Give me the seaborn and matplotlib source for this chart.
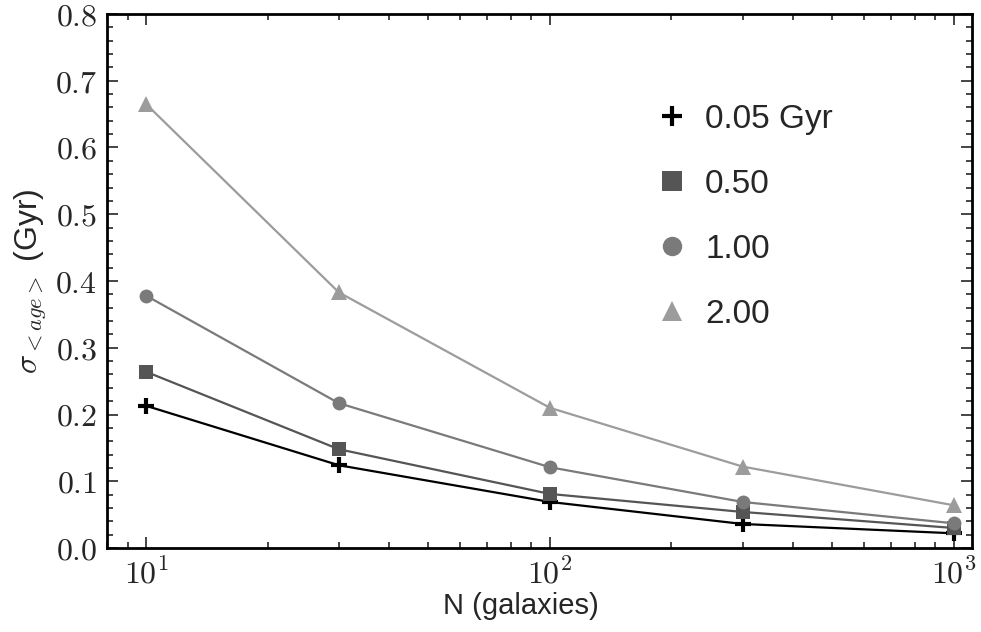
import numpy as np
import pandas as pd
import matplotlib
matplotlib.use("Agg")
import matplotlib.pyplot as plt
from matplotlib.lines import Line2D
from matplotlib.ticker import FuncFormatter, MultipleLocator, LogLocator
import seaborn as sns

# Sample sizes and scatter of the mean age for each age spread
n_galaxies = [10, 30, 100, 300, 1000]
sigma_005 = [0.213, 0.124, 0.069, 0.036, 0.022]
sigma_050 = [0.264, 0.148, 0.081, 0.054, 0.030]
sigma_100 = [0.378, 0.217, 0.121, 0.069, 0.037]
sigma_200 = [0.665, 0.383, 0.210, 0.122, 0.064]
series_labels = ["0.05 Gyr", "0.50", "1.00", "2.00"]

sns.set_theme(style="ticks")
plt.rcParams["font.family"] = ["Liberation Sans", "DejaVu Sans"]
plt.rcParams["mathtext.fontset"] = "cm"

df = pd.DataFrame({
    "N": n_galaxies * 4,
    "sigma": sigma_005 + sigma_050 + sigma_100 + sigma_200,
    "spread": sum([[lab] * len(n_galaxies) for lab in series_labels], []),
})

colors = {"0.05 Gyr": "#000000", "0.50": "#555555", "1.00": "#7a7a7a", "2.00": "#9c9c9c"}
markers = {"0.05 Gyr": "+", "0.50": "s", "1.00": "o", "2.00": "^"}
msizes = {"0.05 Gyr": 11, "0.50": 10, "1.00": 10, "2.00": 11}

fig = plt.figure(figsize=(9.81, 6.32), dpi=100)
ax = fig.add_axes([107 / 981, 1 - 548 / 632, (972 - 107) / 981, (548 - 14) / 632])

for lab in series_labels:
    sub = df[df["spread"] == lab]
    sns.lineplot(data=sub, x="N", y="sigma", ax=ax, color=colors[lab], lw=1.6,
                 marker=markers[lab], markersize=msizes[lab],
                 markeredgewidth=3 if lab == "0.05 Gyr" else 0,
                 markeredgecolor=colors[lab], markerfacecolor=colors[lab],
                 legend=False)

ax.set_xscale("log")
ax.set_xlim(8.0, 1110)
ax.set_ylim(0, 0.8)
ax.yaxis.set_major_locator(MultipleLocator(0.1))
ax.yaxis.set_minor_locator(MultipleLocator(0.02))
ax.xaxis.set_major_locator(LogLocator(base=10))
ax.xaxis.set_minor_locator(LogLocator(base=10, subs=np.arange(2, 10)))
ax.xaxis.set_major_formatter(FuncFormatter(lambda v, p: f"$10^{{{int(round(np.log10(v)))}}}$"))
ax.yaxis.set_major_formatter(FuncFormatter(lambda v, p: f"${v:.1f}$"))
ax.tick_params(which="both", direction="in", top=True, right=True, width=1.2)
ax.tick_params(which="major", length=8, labelsize=23)
ax.tick_params(axis="y", which="major", pad=7)
ax.tick_params(axis="x", which="major", pad=8)
ax.tick_params(which="minor", length=4)
for s in ax.spines.values():
    s.set_linewidth(2)
    s.set_color("black")

ax.set_xlabel("N (galaxies)", fontsize=21, labelpad=0)
ax.xaxis.set_label_coords(0.478, -0.083)
ax.set_ylabel(r"$\sigma_{<age>}$ (Gyr)", fontsize=23, labelpad=4)

handles = [Line2D([], [], ls="none", marker=markers[l], color=colors[l],
                  markersize=msizes[l] + 4, markeredgewidth=3 if l == "0.05 Gyr" else 0)
           for l in series_labels]
ax.legend(handles, series_labels, loc="upper left", bbox_to_anchor=(0.601, 0.888),
          frameon=False, fontsize=24, labelspacing=1.02, handletextpad=0.55,
          handlelength=0.9)

fig.savefig("out.png", dpi=100)
